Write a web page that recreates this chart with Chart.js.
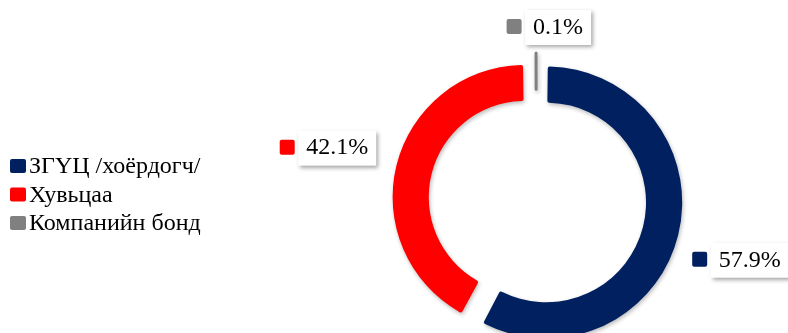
<!DOCTYPE html>
<html>
<head>
<meta charset="utf-8">
<script src="https://cdn.jsdelivr.net/npm/chart.js@4"></script>
<style>
  html, body { margin: 0; padding: 0; background: #fff; overflow: hidden; }
  #wrap { position: relative; width: 788px; height: 333px; }
</style>
</head>
<body>
<div id="wrap"><canvas id="share-chart"></canvas></div>
<script>
const categories = ['ЗГҮЦ /хоёрдогч/', 'Хувьцаа', 'Компанийн бонд'];
const shares = [57.9, 42.1, 0.1];
const shareLabels = ['57.9%', '42.1%', '0.1%'];
const sliceColors = ['#002060', '#FF0000', '#808080'];

// label nudges from the outer edge of each slice (dx, dy)
const labelNudge = [[41, 28.5], [-127, -22.5], [-22, -47.5]];
const FONT = '"Liberation Serif", "Times New Roman", serif';

// soft shadow under the ring
const ringShadow = {
  id: 'ringShadow',
  beforeDatasetsDraw(chart) {
    const ctx = chart.ctx;
    ctx.save();
    ctx.shadowColor = 'rgba(0, 0, 0, 0.28)';
    ctx.shadowBlur = 4;
    ctx.shadowOffsetX = 1;
    ctx.shadowOffsetY = 2;
  },
  afterDatasetsDraw(chart) {
    chart.ctx.restore();
  }
};

function roundRect(ctx, x, y, w, h, r) {
  ctx.beginPath();
  ctx.moveTo(x + r, y);
  ctx.arcTo(x + w, y, x + w, y + h, r);
  ctx.arcTo(x + w, y + h, x, y + h, r);
  ctx.arcTo(x, y + h, x, y, r);
  ctx.arcTo(x, y, x + w, y, r);
  ctx.closePath();
}

// boxed value labels + left legend
const boxLabels = {
  id: 'boxLabels',
  afterDraw(chart) {
    const ctx = chart.ctx;
    const meta = chart.getDatasetMeta(0);
    ctx.save();
    ctx.font = '24px ' + FONT;
    ctx.textBaseline = 'middle';
    meta.data.forEach((arc, i) => {
      const p = arc.getProps(['x', 'y', 'startAngle', 'endAngle', 'outerRadius'], true);
      const mid = (p.startAngle + p.endAngle) / 2;
      const cx = p.x + Math.cos(mid) * p.outerRadius + labelNudge[i][0];
      const cy = p.y + Math.sin(mid) * p.outerRadius + labelNudge[i][1];
      // marker
      ctx.fillStyle = sliceColors[i];
      roundRect(ctx, cx - 7.5, cy - 7.5, 15, 15, 2);
      ctx.fill();
      // box
      const tw = ctx.measureText(shareLabels[i]).width;
      const bx = cx + 11, bw = tw + 16, bh = 35, by = cy - bh / 2 + 1;
      ctx.save();
      ctx.shadowColor = 'rgba(0, 0, 0, 0.35)';
      ctx.shadowBlur = 4;
      ctx.shadowOffsetX = 2;
      ctx.shadowOffsetY = 2;
      ctx.fillStyle = '#fff';
      ctx.fillRect(bx, by, bw, bh);
      ctx.restore();
      ctx.fillStyle = '#000';
      ctx.fillText(shareLabels[i], bx + 8, cy + 1);
    });

    // legend
    categories.forEach((name, i) => {
      const y = 166 + i * 28.5;
      ctx.fillStyle = sliceColors[i];
      roundRect(ctx, 10, y - 7, 16, 14, 2);
      ctx.fill();
      ctx.fillStyle = '#000';
      ctx.fillText(name, 29, y + 1);
    });
    ctx.restore();
  }
};

new Chart(document.getElementById('share-chart'), {
  type: 'doughnut',
  data: {
    labels: categories,
    datasets: [{
      data: shares,
      backgroundColor: sliceColors,
      borderColor: sliceColors,
      borderWidth: [0, 0, 3],
      borderJoinStyle: 'round',
      borderRadius: 2,
      offset: [40, 48, 42],
      clip: false
    }]
  },
  options: {
    responsive: true,
    maintainAspectRatio: false,
    animation: false,
    radius: 126,
    cutout: '71.3%',
    layout: { padding: { left: 300, right: 15, top: 67, bottom: 0 } },
    plugins: {
      legend: { display: false },
      tooltip: { enabled: false }
    }
  },
  plugins: [ringShadow, boxLabels]
});
</script>
</body>
</html>
